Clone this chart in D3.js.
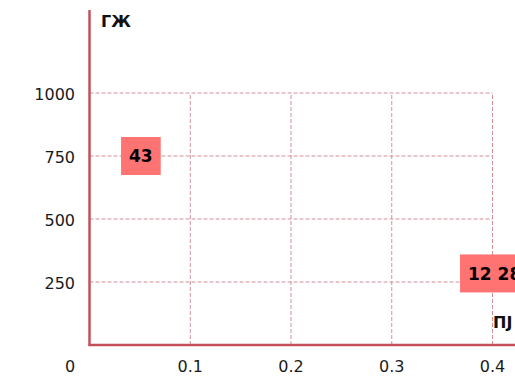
<!DOCTYPE html>
<html><head><meta charset="utf-8">
<script src="https://cdn.jsdelivr.net/npm/d3@7"></script>
<style>body{margin:0;background:#fff}svg{display:block}</style>
</head><body>
<svg id="c" width="515" height="384"></svg>
<script>
const xTicks = [0.1, 0.2, 0.3, 0.4];
const yTicks = [250, 500, 750, 1000];
const pointX = [0.051, 0.408];
const pointY = [750, 284];
const pointLabels = ["43", "12 286"];
const xTitle = "ПЈ";
const yTitle = "ГЖ";

const svg = d3.select("#c");
const x = d3.scaleLinear().domain([0, 0.4]).range([89.5, 492.5]);
const y = d3.scaleLinear().domain([0, 1000]).range([345, 93]);
const axisColor = "#c4505c", gridColor = "#d0909a";
const font = "DejaVu Sans, Verdana, sans-serif";

// grid
const g = svg.append("g");
g.selectAll(".hg").data(yTicks).join("line")
  .attr("x1", x(0)).attr("x2", x(0.4)).attr("y1", d => y(d)).attr("y2", d => y(d))
  .attr("stroke", gridColor).attr("stroke-width", 1).attr("stroke-dasharray", "4,2");
g.selectAll(".vg").data(xTicks).join("line")
  .attr("x1", d => x(d)).attr("x2", d => x(d)).attr("y1", y(0)).attr("y2", y(1000))
  .attr("stroke", gridColor).attr("stroke-width", 1).attr("stroke-dasharray", "4,2");

// axes
svg.append("line").attr("x1", x(0)).attr("x2", x(0)).attr("y1", 10).attr("y2", y(0) + 1)
  .attr("stroke", axisColor).attr("stroke-width", 2.5);
svg.append("line").attr("x1", x(0) - 1).attr("x2", 515).attr("y1", y(0)).attr("y2", y(0))
  .attr("stroke", axisColor).attr("stroke-width", 2.5);

// tick labels
svg.selectAll(".xt").data(xTicks).join("text")
  .attr("x", d => x(d)).attr("y", 366).attr("dy", "0.36em").attr("text-anchor", "middle")
  .attr("font-family", font).attr("font-size", 16).attr("fill", "#1a1a1a").text(d => d3.format(".1f")(d));
svg.selectAll(".yt").data(yTicks).join("text")
  .attr("x", 75).attr("y", d => y(d) + 1).attr("dy", "0.36em").attr("text-anchor", "end")
  .attr("font-family", font).attr("font-size", 16).attr("fill", "#1a1a1a").text(d => d);
svg.append("text").attr("x", 70).attr("y", 366).attr("dy", "0.36em").attr("text-anchor", "middle")
  .attr("font-family", font).attr("font-size", 16).attr("fill", "#1a1a1a").text("0");

// titles
svg.append("text").attr("x", 101).attr("y", 27).attr("font-family", font)
  .attr("font-size", 16).attr("font-weight", "bold").attr("fill", "#111").text(yTitle);
svg.append("text").attr("x", 493).attr("y", 328).attr("font-family", font)
  .attr("font-size", 16).attr("font-weight", "bold").attr("fill", "#111").text(xTitle);

// labelled points
pointX.forEach((px, i) => {
  const cx = x(px), cy = y(pointY[i]);
  const grp = svg.append("g");
  const t = grp.append("text").attr("x", cx).attr("y", cy).attr("dy", "0.36em")
    .attr("text-anchor", "middle").attr("font-family", font).attr("font-size", 17)
    .attr("font-weight", "bold").attr("fill", "#000").text(pointLabels[i]);
  const bb = t.node().getBBox();
  grp.insert("rect", "text").attr("x", bb.x - 8).attr("y", cy - 19)
    .attr("width", bb.width + 16).attr("height", 38).attr("fill", "#ff7373");
});
</script>
</body></html>
